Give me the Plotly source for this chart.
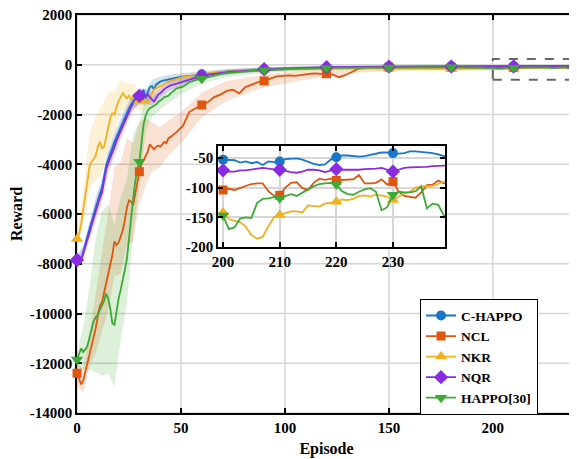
import plotly.graph_objects as go

# ---------------- data ----------------
EP_EARLY = list(range(0, 45))
EP_MID = list(range(45, 199, 3))
EP_LATE = list(range(200, 241))
EPISODES = EP_EARLY + EP_MID + EP_LATE

C_HAPPO = [
    -7850, -7950, -7850, -7500, -7200, -6900, -6600, -6300, -6000, -5700,
    -5450, -5200, -4950, -4500, -4050, -3800, -3600, -3350, -3100, -2900,
    -2700, -2500, -2300, -2100, -1900, -1750, -1600, -1450, -1350, -1250,
    -1300, -1150, -1000, -1350, -1100, -900, -850, -1000, -800, -720,
    -680, -650, -630, -600, -580,
    -560, -520, -480, -450, -420, -380, -350, -330, -300, -280,
    -260, -250, -230, -210, -200, -190, -180, -170, -160, -150,
    -140, -135, -130, -120, -115, -110, -105, -100, -95, -90,
    -88, -85, -82, -80, -78, -75, -72, -70, -68, -67,
    -66, -65, -63, -62, -60, -60, -59, -58, -57, -56,
    -55, -54,
    -53, -53, -54, -58, -56, -59, -57, -62, -56, -57,
    -56, -52, -51, -51, -53, -57, -60, -62, -61, -53,
    -49, -46, -46, -47, -48, -47, -45, -44, -41, -41,
    -42, -43, -42, -39, -39, -40, -40, -42, -44, -47,
    -48,
]

NCL = [
    -12400, -12650, -12850, -12700, -12350, -11950, -11550, -11200, -10850, -10600,
    -10100, -9700, -9550, -9150, -8800, -8450, -8050, -7650, -7100, -7250,
    -7150, -6900, -6650, -6250, -5750, -5450, -5500, -5650, -5200, -4650,
    -4300, -4000, -3850, -3650, -3500, -3200, -3300, -3400, -3300, -3250,
    -3300, -3200, -3100, -3150, -2950,
    -2900, -2700, -2450, -1900, -1750, -1620, -1500, -1300, -1200, -1050,
    -1000, -1150, -900, -800, -700, -650, -560, -470, -450, -430,
    -450, -400, -380, -350, -370, -360, -400, -500, -420, -300,
    -170, -140, -120, -110, -100, -95, -100, -110, -120, -130,
    -110, -100, -120, -110, -100, -105, -110, -100, -105, -110,
    -100, -105,
    -104, -102, -104, -101, -97, -94, -93, -93, -106, -114,
    -113, -100, -92, -91, -101, -104, -92, -85, -87, -85,
    -88, -87, -86, -86, -79, -93, -93, -92, -86, -95,
    -90, -107, -114, -115, -117, -108, -96, -95, -88, -93,
    -92,
]

NKR = [
    -7000, -6800, -6400, -5800, -5200, -4600, -4100, -3900, -3800, -3650,
    -3300, -3100, -3350, -3300, -2900, -2500, -2150, -1950, -2000, -1700,
    -1450, -1300, -1150, -1250, -1350, -1250, -1400, -1250, -1200, -1350,
    -1450, -1300, -1350, -1500, -1550, -1350, -1150, -1000, -950, -900,
    -870, -850, -780, -720, -680,
    -650, -560, -500, -460, -420, -380, -350, -320, -300, -280,
    -260, -240, -220, -210, -200, -190, -180, -175, -170, -165,
    -160, -160, -155, -150, -150, -145, -145, -140, -140, -140,
    -138, -140, -142, -145, -148, -150, -152, -155, -160, -165,
    -170, -175, -180, -185, -180, -175, -170, -160, -150, -148,
    -145, -143,
    -142, -153, -156, -158, -166, -180, -186, -183, -165, -150,
    -146, -143, -140, -140, -142, -130, -131, -132, -127, -126,
    -124, -120, -121, -119, -114, -113, -115, -112, -113, -115,
    -121, -115, -110, -107, -100, -98, -98, -97, -94, -90,
    -90,
]

NQR = [
    -7850, -7900, -7800, -7600, -7300, -7050, -6750, -6450, -6150, -5850,
    -5600, -5350, -5150, -4700, -4200, -3950, -3750, -3500, -3300, -3050,
    -2850, -2650, -2450, -2250, -2050, -1850, -1700, -1550, -1450, -1300,
    -1250, -1200, -1150, -1250, -1200, -1300, -1400, -1480, -1350, -1200,
    -1150, -1050, -980, -920, -870,
    -830, -760, -680, -600, -520, -450, -400, -360, -330, -300,
    -280, -260, -240, -220, -200, -180, -170, -160, -150, -140,
    -130, -120, -115, -110, -105, -100, -97, -95, -92, -90,
    -88, -86, -84, -82, -80, -78, -77, -76, -75, -75,
    -74, -74, -73, -73, -72, -72, -72, -71, -71, -72,
    -71, -71,
    -71, -73, -73, -71, -71, -70, -69, -67, -68, -69,
    -70, -72, -74, -75, -73, -70, -70, -71, -74, -72,
    -69, -70, -70, -71, -70, -69, -69, -68, -67, -70,
    -73, -70, -67, -66, -66, -65, -65, -64, -63, -63,
    -63,
]

HAPPO = [
    -11850, -11650, -11400, -11550, -11450, -11300, -10950, -10700, -10300, -10150,
    -10050, -9850, -9700, -9500, -9200, -9400, -9800, -10400, -10450, -9900,
    -9400, -9050, -8700, -8250, -7800, -6900, -6100, -5400, -4700, -4200,
    -3900, -3050, -2400, -2050, -1850, -1750, -1700, -1650, -1600, -1500,
    -1450, -1380, -1300, -1270, -1250,
    -1150, -950, -880, -700, -620, -560, -500, -420, -380, -340,
    -310, -290, -270, -250, -230, -220, -200, -190, -180, -170,
    -160, -150, -145, -140, -135, -130, -128, -125, -122, -120,
    -118, -115, -113, -112, -110, -110, -108, -107, -106, -105,
    -104, -103, -102, -101, -100, -100, -100, -102, -105, -110,
    -120, -135,
    -147, -170, -167, -152, -150, -151, -126, -119, -118, -116,
    -118, -115, -111, -114, -108, -103, -98, -94, -93, -92,
    -95, -106, -111, -112, -107, -103, -101, -107, -138, -133,
    -112, -107, -108, -108, -106, -98, -135, -127, -129, -147,
    -150,
]

# shaded spread (upper / lower distance from the mean curve)
BAND_EP = [0, 3, 6, 9, 12, 15, 18, 21, 24, 27, 30, 33, 36, 40, 44, 51, 60, 72, 90,
           111, 135, 159, 180, 201, 220, 240]
C_HAPPO_UP = [150, 250, 300, 350, 350, 350, 350, 300, 300, 300, 300, 300, 250, 200,
              180, 150, 120, 100, 80, 60, 50, 40, 40, 30, 30, 30]
C_HAPPO_DN = C_HAPPO_UP
NCL_UP = [400, 500, 700, 1500, 2000, 2500, 3000, 3000, 2800, 2500, 2000, 1500, 1000,
          800, 700, 600, 500, 400, 250, 200, 150, 100, 80, 50, 50, 50]
NCL_DN = [500, 500, 600, 1000, 1200, 1400, 1400, 1500, 1500, 1500, 1300, 1200, 1000,
          800, 700, 600, 500, 400, 250, 200, 150, 100, 80, 50, 50, 50]
NKR_UP = [300, 800, 1300, 1600, 1700, 1400, 900, 700, 600, 500, 450, 400, 350, 250,
          200, 150, 120, 100, 80, 80, 80, 90, 100, 60, 50, 50]
NKR_DN = [300, 700, 900, 1000, 1000, 900, 800, 600, 500, 450, 400, 350, 300, 250,
          200, 150, 120, 100, 80, 80, 80, 90, 100, 60, 50, 50]
NQR_UP = [150, 250, 300, 400, 400, 400, 350, 350, 300, 300, 300, 300, 250, 200,
          180, 150, 120, 100, 80, 60, 50, 40, 40, 30, 30, 30]
NQR_DN = NQR_UP
HAPPO_UP = [300, 1000, 2000, 3200, 3800, 3800, 4000, 3700, 3200, 2600, 1600, 700, 400,
            350, 300, 250, 200, 150, 100, 80, 60, 50, 50, 40, 40, 40]
HAPPO_DN = [300, 700, 1300, 2200, 2800, 3000, 2500, 2000, 1800, 1400, 1000, 600, 400,
            350, 300, 250, 200, 150, 100, 80, 60, 50, 50, 40, 40, 40]

NAMES = ["C-HAPPO", "NCL", "NKR", "NQR", "HAPPO[30]"]
MAIN_MARKER_EP = [0, 30, 60, 90, 120, 150, 180, 210]
INSET_MARKER_EP = [200, 210, 220, 230]
X_TICKS = [0, 50, 100, 150, 200]
Y_TICKS = [-14000, -12000, -10000, -8000, -6000, -4000, -2000, 0, 2000]
INSET_X_TICKS = [200, 210, 220, 230]
INSET_Y_TICKS = [-200, -150, -100, -50]
ZOOM_BOX_X = [200, 240]
ZOOM_BOX_Y = [-600, 230]

# ---------------- styling ----------------
COLORS = ["#1777c9", "#e0560f", "#f0b020", "#8a2be2", "#3cab34"]
FILLS = ["rgba(23,119,201,0.2)", "rgba(224,86,15,0.18)", "rgba(240,176,32,0.18)",
         "rgba(138,43,226,0.2)", "rgba(60,171,52,0.18)"]
SYMBOLS = ["circle", "square", "triangle-up", "diamond", "triangle-down"]
MSIZE = [10, 9, 11, 11, 11]
FONT = "Liberation Serif"
GRID = "#d6d6d6"

series = [C_HAPPO, NCL, NKR, NQR, HAPPO]
ups = [C_HAPPO_UP, NCL_UP, NKR_UP, NQR_UP, HAPPO_UP]
dns = [C_HAPPO_DN, NCL_DN, NKR_DN, NQR_DN, HAPPO_DN]

idx = {e: i for i, e in enumerate(EPISODES)}

fig = go.Figure()

# shaded bands
for s, up, dn, fc in zip(series, ups, dns, FILLS):
    upper = [s[idx[e]] + u for e, u in zip(BAND_EP, up)]
    lower = [s[idx[e]] - d for e, d in zip(BAND_EP, dn)]
    fig.add_trace(go.Scatter(
        x=BAND_EP + BAND_EP[::-1], y=upper + lower[::-1], fill="toself",
        fillcolor=fc, line=dict(width=0), mode="lines", hoverinfo="skip",
        showlegend=False, xaxis="x", yaxis="y"))

# main lines
for s, c in zip(series, COLORS):
    fig.add_trace(go.Scatter(x=EPISODES, y=s, mode="lines",
                             line=dict(color=c, width=1.8), showlegend=False,
                             xaxis="x", yaxis="y"))
# main markers
for s, c, sym, ms in zip(series, COLORS, SYMBOLS, MSIZE):
    fig.add_trace(go.Scatter(x=MAIN_MARKER_EP, y=[s[idx[e]] for e in MAIN_MARKER_EP],
                             mode="markers", cliponaxis=False,
                             marker=dict(color=c, symbol=sym, size=ms),
                             showlegend=False, xaxis="x", yaxis="y"))

# inset
for s, c, sym, ms in zip(series, COLORS, SYMBOLS, MSIZE):
    fig.add_trace(go.Scatter(x=EP_LATE, y=[s[idx[e]] for e in EP_LATE], mode="lines",
                             line=dict(color=c, width=1.8), showlegend=False,
                             xaxis="x2", yaxis="y2"))
    fig.add_trace(go.Scatter(x=INSET_MARKER_EP, y=[s[idx[e]] for e in INSET_MARKER_EP],
                             mode="markers", cliponaxis=False,
                             marker=dict(color=c, symbol=sym, size=ms),
                             showlegend=False, xaxis="x2", yaxis="y2"))

# legend entries
for name, c, sym, ms in zip(NAMES, COLORS, SYMBOLS, MSIZE):
    fig.add_trace(go.Scatter(x=[None], y=[None], mode="lines+markers", name=name,
                             line=dict(color=c, width=1.8),
                             marker=dict(color=c, symbol=sym, size=ms),
                             xaxis="x", yaxis="y"))

# main grid as shapes, then a white patch under the inset
shapes = []
for t in X_TICKS:
    shapes.append(dict(type="line", xref="x", yref="paper", x0=t, x1=t, y0=0, y1=1,
                       line=dict(color=GRID, width=1.5), layer="below"))
for t in Y_TICKS:
    shapes.append(dict(type="line", xref="paper", yref="y", x0=0, x1=1, y0=t, y1=t,
                       line=dict(color=GRID, width=1.5), layer="below"))
INSET_DX = [0.2826, 0.7375]
INSET_DY = [0.417, 0.6709]
shapes.append(dict(type="rect", xref="paper", yref="paper", x0=INSET_DX[0], x1=INSET_DX[1],
                   y0=INSET_DY[0], y1=INSET_DY[1], fillcolor="white",
                   line=dict(width=0), layer="below"))
shapes.append(dict(type="rect", xref="x", yref="y", x0=ZOOM_BOX_X[0], x1=ZOOM_BOX_X[1],
                   y0=ZOOM_BOX_Y[0], y1=ZOOM_BOX_Y[1],
                   line=dict(color="#666666", width=2, dash="dash"), layer="above"))

tickfont = dict(family=FONT, size=15, color="black", weight="bold")
axis_common = dict(ticks="inside", ticklen=5, tickwidth=1.5, tickcolor="black",
                   showline=True, linecolor="black", linewidth=1.5, mirror="ticks",
                   zeroline=False, tickfont=tickfont, automargin=False,
                   ticklabeloverflow="allow")

# the page adds an 8px body margin, so the figure is sized to land in the window
fig.update_layout(
    width=569, height=451,
    margin=dict(l=69, r=1, t=7, b=46),
    plot_bgcolor="white", paper_bgcolor="white",
    font=dict(family=FONT, size=15, color="black", weight="bold"),
    shapes=shapes,
    xaxis=dict(range=[0, 240], tickvals=X_TICKS, ticktext=[str(t) for t in X_TICKS],
               showgrid=False, layer="below traces",
               title=dict(text="Episode", font=dict(family=FONT, size=16, weight="bold"),
                          standoff=8),
               **axis_common),
    yaxis=dict(range=[-14000, 2000], tickvals=Y_TICKS, ticktext=[str(t) for t in Y_TICKS],
               showgrid=False, layer="below traces",
               title=dict(text="Reward", font=dict(family=FONT, size=16, weight="bold"),
                          standoff=8),
               **axis_common),
    xaxis2=dict(domain=INSET_DX, anchor="y2", range=[199.1, 239.2],
                tickvals=INSET_X_TICKS, ticktext=[str(t) for t in INSET_X_TICKS],
                showgrid=True, gridcolor=GRID, gridwidth=1.5,
                **axis_common),
    yaxis2=dict(domain=INSET_DY, anchor="x2", range=[-200, -30],
                tickvals=INSET_Y_TICKS, ticktext=[str(t) for t in INSET_Y_TICKS],
                showgrid=True, gridcolor=GRID, gridwidth=1.5,
                **axis_common),
    showlegend=True,
    legend=dict(x=0.687, y=0.1407, xanchor="left", yanchor="middle",
                bgcolor="white", bordercolor="black", borderwidth=1.2,
                font=dict(family=FONT, size=13.5, color="black", weight="bold"),
                tracegroupgap=0, itemwidth=30),
)

fig.write_html("out.html")
